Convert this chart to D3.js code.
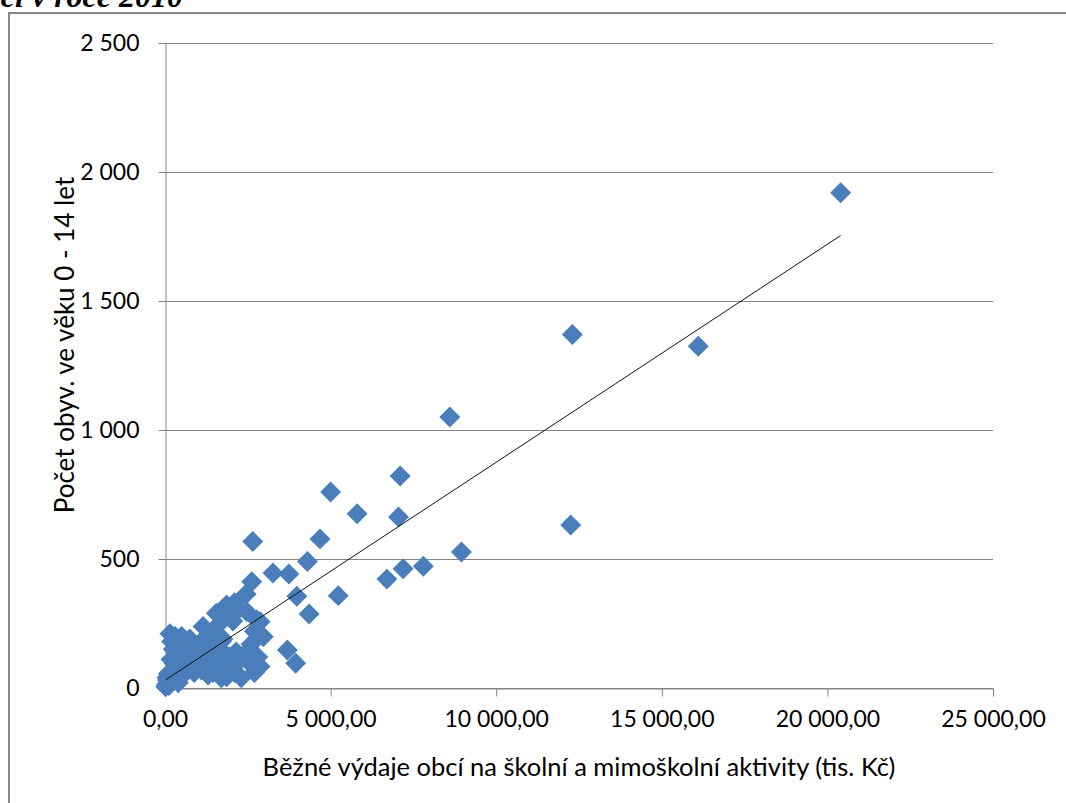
<!DOCTYPE html>
<html><head><meta charset="utf-8">
<script src="https://cdn.jsdelivr.net/npm/d3@7"></script>
<style>body{margin:0;background:#fff;} svg{display:block}</style>
</head><body>
<svg id="c" width="1066" height="803"></svg>
<script>
// Běžné výdaje (tis. Kč)
const spending = [
  20400,12300,16100,8600,7100,5000,5800,7050,12250,8950,4680,2650,4300,7190,7800,6700,3260,3740,2620,2450,3980,5230,4350,
  20,50,80,120,150,200,250,300,350,100,400,60,
  150,200,250,300,350,400,450,500,550,600,650,700,750,800,850,900,950,180,280,420,620,720,880,500,330,
  1000,1100,1150,1200,1250,1300,1350,1400,1450,1500,1550,1600,1650,1700,1750,1800,1860,1900,1950,1750,1860,1700,1500,1300,1100,
  2050,2100,2184,2466,2600,2700,2768,2870,2969,2800,2566,2868,2700,2400,2200,2100,2300,2150,
  3694,3946
];
// Počet obyvatel ve věku 0-14 let
const children = [
  1920,1370,1325,1050,822,760,675,663,632,527,578,568,490,462,472,422,446,442,412,364,356,358,287,
  5,15,30,10,45,25,60,40,70,55,20,40,
  210,180,150,200,130,170,190,150,120,175,100,140,190,160,110,130,80,110,95,100,60,75,60,200,160,
  120,180,238,150,90,200,130,170,60,220,290,110,250,180,140,80,322,280,120,190,44,40,80,50,70,
  260,330,300,296,170,220,264,257,199,120,96,83,60,130,100,60,40,140,
  147,96
];
// linear trend line as shown in the chart: y = trendIntercept + trendSlope * x
const trendIntercept = 30;
const trendSlope = 0.0845;
const xTicks = [0,5000,10000,15000,20000,25000];
const yTicks = [0,500,1000,1500,2000,2500];
const xTitle = "Běžné výdaje obcí na školní a mimoškolní aktivity (tis. Kč)";
const yTitle = "Počet obyv. ve věku 0 - 14 let";
const headTitle = "obcí v roce 2010";

const loc = d3.formatLocale({decimal:",", thousands:"\u00a0", grouping:[3], currency:["",""]});
const fx = loc.format(",.2f"), fy = loc.format(",.0f");

const svg = d3.select("#c");
const L=165, R=993, T=43, B=688;
const x = d3.scaleLinear().domain([0,25000]).range([L,R]);
const y = d3.scaleLinear().domain([0,2500]).range([B,T]);
const grey="#868686";
const font="Lato, 'Open Sans', sans-serif";

// heading (clipped at top, as in the source)
svg.append("text").attr("x",183).attr("y",7).attr("text-anchor","end")
  .attr("font-family","'Liberation Serif', serif").attr("font-weight","bold").attr("font-style","italic")
  .attr("font-size",32).attr("fill","#000").text(headTitle);

// chart frame
svg.append("rect").attr("x",9).attr("y",13).attr("width",1100).attr("height",900)
  .attr("fill","#fff").attr("stroke",grey).attr("stroke-width",2);

// gridlines
svg.append("g").selectAll("line").data(yTicks).join("line")
  .attr("x1",L).attr("x2",R).attr("y1",d=>Math.round(y(d))+0.5).attr("y2",d=>Math.round(y(d))+0.5)
  .attr("stroke",grey).attr("stroke-width",1);

// y axis
const ya = svg.append("g").attr("transform",`translate(${L+0.5},0)`)
  .call(d3.axisLeft(y).tickValues(yTicks).tickFormat(fy).tickSize(7).tickPadding(19));
ya.select(".domain").attr("stroke",grey);
ya.selectAll(".tick line").attr("stroke",grey);
ya.selectAll("text").attr("font-family",font).attr("font-size",23).attr("fill","#000");

// x axis
const xa = svg.append("g").attr("transform",`translate(0,${B+0.5})`)
  .call(d3.axisBottom(x).tickValues(xTicks).tickFormat(fx).tickSize(8).tickPadding(14));
xa.select(".domain").attr("stroke",grey);
xa.selectAll(".tick line").attr("stroke",grey);
xa.selectAll("text").attr("font-family",font).attr("font-size",23).attr("fill","#000");

// points
const pts = spending.map((v,i)=>({x:v,y:children[i]}));
const sym = d3.symbol(d3.symbolSquare, 220);
svg.append("g").selectAll("path").data(pts).join("path")
  .attr("d",sym).attr("fill","#4a7ebb")
  .attr("transform",d=>`translate(${x(d.x)},${y(d.y)}) rotate(45)`);

// trend line spanning the data's x extent
const [x0,x1]=d3.extent(pts,d=>d.x);
svg.append("line").attr("x1",x(x0)).attr("y1",y(trendIntercept+trendSlope*x0))
  .attr("x2",x(x1)).attr("y2",y(trendIntercept+trendSlope*x1)).attr("stroke","#111").attr("stroke-width",1);

// axis titles
svg.append("text").attr("x",(L+R)/2).attr("y",776).attr("text-anchor","middle")
  .attr("font-family",font).attr("font-size",25.5).attr("fill","#000").text(xTitle);
svg.append("text").attr("transform",`translate(74,345) rotate(-90)`).attr("text-anchor","middle")
  .attr("font-family",font).attr("font-size",26).attr("fill","#000").text(yTitle);
</script>
</body></html>
